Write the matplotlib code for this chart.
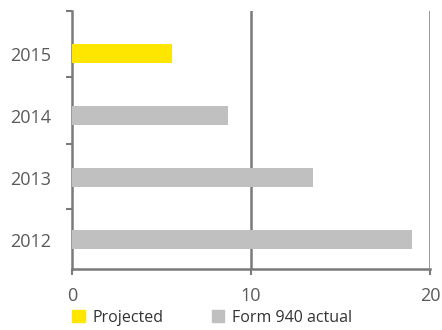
import numpy as np
import matplotlib
matplotlib.use("Agg")
import matplotlib.pyplot as plt
from matplotlib.patches import Patch

years = ["2012", "2013", "2014", "2015"]
values = [19.0, 13.45, 8.7, 5.6]
kinds = ["actual", "actual", "actual", "projected"]
x_ticks = [0, 10, 20]

colors = {"projected": "#FFE600", "actual": "#C0C0C0"}
axis_col = "#7a7a7a"
text_col = "#5a5a5a"

plt.rcParams["font.family"] = ["Open Sans", "DejaVu Sans"]

fig = plt.figure(figsize=(4.42, 3.30), dpi=100)
ax = fig.add_axes([0.163, 0.185, 0.810, 0.782])

pos = np.arange(len(years))
ax.barh(pos, values, height=0.3, color=[colors[k] for k in kinds], zorder=3)

ax.set_xlim(0, 20)
ax.set_ylim(-0.47, 3.69)
ax.set_xticks(x_ticks)
ax.set_xticklabels([str(t) for t in x_ticks])
ax.set_yticks(pos)
ax.set_yticklabels(years)
ax.set_yticks([0.5, 1.55, 2.62, 3.69], minor=True)

ax.tick_params(axis="y", which="major", length=0, pad=15, labelsize=13, labelcolor=text_col)
ax.tick_params(axis="y", which="minor", length=4, width=1.5, color=axis_col)
ax.tick_params(axis="x", length=4, width=1.5, color=axis_col, pad=9, labelsize=13, labelcolor=text_col)

for s in ["top", "right"]:
    ax.spines[s].set_visible(False)
for s in ["left", "bottom"]:
    ax.spines[s].set_color(axis_col)
    ax.spines[s].set_linewidth(1.8)

for t in x_ticks[1:]:
    ax.axvline(t, color=axis_col, lw=1.8, zorder=2)

handles = [Patch(color=colors["projected"], label="Projected"),
           Patch(color=colors["actual"], label="Form 940 actual")]
leg = fig.legend(handles=handles, loc="lower left", bbox_to_anchor=(0.13, -0.03),
                 ncol=2, frameon=False, fontsize=11.5, handlelength=0.8, handleheight=0.8,
                 handletextpad=0.5, columnspacing=3.0)
for t in leg.get_texts():
    t.set_color("#333333")

fig.savefig("out.png", dpi=100)
